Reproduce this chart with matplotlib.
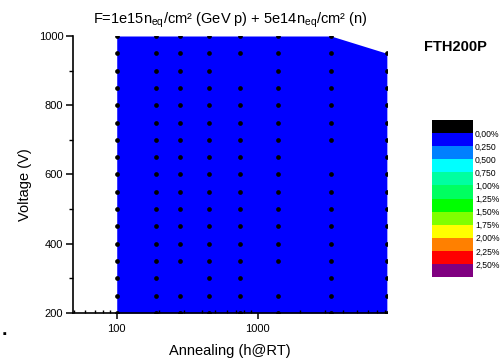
import numpy as np
import matplotlib
matplotlib.use("Agg")
import matplotlib.pyplot as plt
from matplotlib.colors import ListedColormap, BoundaryNorm
from matplotlib.colorbar import ColorbarBase
from matplotlib.ticker import LogLocator, NullFormatter, NullLocator, MultipleLocator

plt.rcParams['font.family'] = ['Liberation Sans', 'DejaVu Sans']

# annealing times (h) and measured voltages
times = [100, 190, 280, 450, 750, 1400, 3300, 8200]
volts = [200, 250, 300, 350, 400, 450, 500, 550, 600,
         650, 700, 750, 800, 850, 900, 950, 1000]
# highest voltage measured per annealing step
top_volts = [1000, 1000, 1000, 1000, 1000, 1000, 1000, 950]
# grid points with no measurement
missing = [(750, 900), (3300, 650), (280, 300), (1400, 300)]

# contour levels (%) and colours of the scale
levels = [0.0, 0.25, 0.5, 0.75, 1.0, 1.25, 1.5, 1.75, 2.0, 2.25, 2.5]
level_labels = ['0,00%', '0,250', '0,500', '0,750', '1,00%', '1,25%',
                '1,50%', '1,75%', '2,00%', '2,25%', '2,50%']
level_colors = ['#000000', '#0000ff', '#0080ff', '#00ffff', '#00ffa0',
                '#00ff60', '#00ff00', '#80ff00', '#ffff00', '#ff8000',
                '#ff0000', '#800080']

fig = plt.figure(figsize=(5, 3.6), dpi=100)
ax = fig.add_axes([0.146, 0.1306, 0.628, 0.7694])

# filled region: everything in the 0 - 0.25 % band
ax.fill_between(times, 200, top_volts, color=level_colors[1], lw=0, zorder=1)

# measurement points
px, py = [], []
for t, vmax in zip(times, top_volts):
    for v in volts:
        if v <= vmax and (t, v) not in missing:
            px.append(t)
            py.append(v)
ax.plot(px, py, 'o', color='black', ms=3.4, mew=0, zorder=3)

ax.set_xscale('log')
ax.set_xlim(49, 8220)
ax.set_ylim(200, 1000)
ax.xaxis.set_minor_locator(LogLocator(base=10, subs=np.arange(2, 10), numticks=10))
ax.xaxis.set_minor_formatter(NullFormatter())
ax.set_xticks([100, 1000])
ax.set_xticklabels(['100', '1000'])
ax.yaxis.set_major_locator(MultipleLocator(200))
ax.yaxis.set_minor_locator(MultipleLocator(100))

for s in ['top', 'right']:
    ax.spines[s].set_visible(False)
for s in ['left', 'bottom']:
    ax.spines[s].set_linewidth(1.2)
ax.tick_params(axis='y', which='major', direction='out', length=5, width=1.1, labelsize=8, pad=2)
ax.tick_params(axis='y', which='minor', direction='out', length=3, width=1.0)
ax.tick_params(axis='x', which='major', direction='out', length=4, width=1.1, labelsize=8, pad=4)
ax.tick_params(axis='x', which='minor', direction='in', length=2.5, width=1.0)

ax.set_xlabel('Annealing (h@RT)', fontsize=10.5, labelpad=7)
ax.set_ylabel('Voltage (V)', fontsize=10.5)
ax.yaxis.set_label_coords(-0.131, 0.462)
ax.set_title('F=1e15n$_{\\mathregular{eq}}$/cm² (GeV p) + 5e14n$_{\\mathregular{eq}}$/cm² (n)',
             fontsize=10.5, pad=9)

fig.text(0.91, 0.87, 'FTH200P', fontsize=10.5, fontweight='bold', ha='center', va='center')

# colour scale
cax = fig.add_axes([0.864, 0.2306, 0.082, 0.436])
bounds = [-0.25] + levels + [2.75]
cmap = ListedColormap(level_colors)
norm = BoundaryNorm(bounds, cmap.N)
cb = ColorbarBase(cax, cmap=cmap, norm=norm, boundaries=bounds, ticks=levels)
cb.outline.set_visible(False)
cb.ax.yaxis.set_minor_locator(NullLocator())
cb.ax.set_yticklabels(level_labels)
cb.ax.invert_yaxis()
cb.ax.tick_params(length=0, labelsize=6.2, pad=1.5)

fig.text(0.004, 0.07, '.', fontsize=14, fontweight='bold')

fig.savefig('out.png', dpi=100)
